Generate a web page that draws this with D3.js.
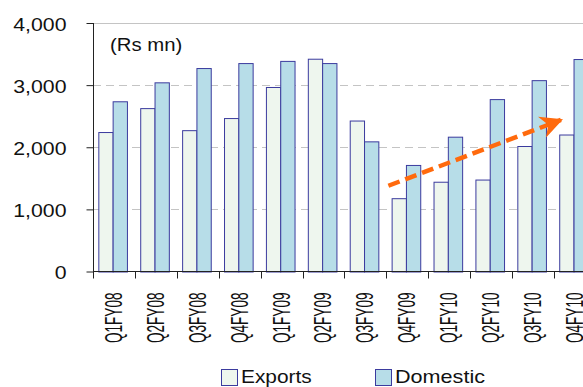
<!DOCTYPE html>
<html>
<head>
<meta charset="utf-8">
<script src="https://cdn.jsdelivr.net/npm/d3@7"></script>
<style>
  html, body { margin: 0; padding: 0; background: #fff; }
  svg { display: block; }
  text { font-family: "Liberation Sans", Arial, sans-serif; fill: #111; }
</style>
</head>
<body>
<svg id="chart" width="583" height="387"></svg>
<script>
// Quarterly sales split, Rs mn
const quarters = ["Q1FY08", "Q2FY08", "Q3FY08", "Q4FY08", "Q1FY09", "Q2FY09",
                  "Q3FY09", "Q4FY09", "Q1FY10", "Q2FY10", "Q3FY10", "Q4FY10"];
const seriesNames = ["Exports", "Domestic"];
const exportsValues  = [2245, 2630, 2275, 2470, 2970, 3425, 2430, 1180, 1445, 1480, 2020, 2205];
const domesticValues = [2740, 3045, 3275, 3355, 3390, 3355, 2095, 1715, 2170, 2775, 3080, 3420];
const yTicks = [0, 1000, 2000, 3000, 4000];
const unitLabel = "(Rs mn)";
// Trend arrow: [quarter, offset within quarter band, value]
const trendArrow = [["Q4FY09", 0.05, 1380], ["Q4FY10", 0.31, 2475]];

const colors = { Exports: "#EEF6EE", Domestic: "#B7DDE8" };
const barStroke = "#3B3B9E";

const svg = d3.select("#chart");
const plotLeft = 93, plotTop = 23, plotBottom = 271.5;
const bandStep = 41.9;

const x = d3.scaleBand().domain(quarters).range([plotLeft, plotLeft + bandStep * quarters.length]).padding(0);
const bw = x.bandwidth();
const xs = d3.scaleBand().domain(seriesNames).range([bw * 0.127, bw * 0.81]).padding(0);
const y = d3.scaleLinear().domain([0, 4000]).range([plotBottom, plotTop]);

// Gridlines
svg.append("g").selectAll("line").data(yTicks.filter(d => d > 0)).join("line")
  .attr("x1", plotLeft).attr("x2", 583)
  .attr("y1", d => Math.round(y(d)) + 0.5).attr("y2", d => Math.round(y(d)) + 0.5)
  .attr("stroke", "#C4C4C4").attr("stroke-width", 1)
  .attr("stroke-dasharray", d => d === 4000 ? null : "8,5");

// Bars
const rows = quarters.map((q, i) => ({ q, Exports: exportsValues[i], Domestic: domesticValues[i] }));
const groups = svg.append("g").selectAll("g").data(rows).join("g")
  .attr("transform", d => `translate(${x(d.q)},0)`);
groups.selectAll("rect").data(d => seriesNames.map(s => ({ s, v: d[s] }))).join("rect")
  .attr("x", d => xs(d.s) + 0.5)
  .attr("y", d => y(d.v) + 0.5)
  .attr("width", xs.bandwidth())
  .attr("height", d => plotBottom - y(d.v))
  .attr("fill", d => colors[d.s])
  .attr("stroke", barStroke)
  .attr("stroke-width", 1);

// Y axis
const yAxis = svg.append("g").attr("transform", `translate(${plotLeft + 0.5},0)`)
  .call(d3.axisLeft(y).tickValues(yTicks).tickSize(7).tickFormat(d3.format(",")));
yAxis.select(".domain").attr("stroke", "#222").attr("d", `M0,${plotTop}V${plotBottom}`);
yAxis.selectAll(".tick line").attr("stroke", "#222");
yAxis.selectAll(".tick text")
  .attr("x", null).attr("dy", null)
  .attr("font-size", 19)
  .attr("text-anchor", "end")
  .attr("transform", "translate(-27,7) scale(1.12,1)")
  .attr("fill", "#111");

// X axis
const xAxis = svg.append("g").attr("transform", `translate(0,${plotBottom})`);
xAxis.append("line").attr("x1", plotLeft).attr("x2", 583).attr("y1", 0).attr("y2", 0)
  .attr("stroke", "#222");
xAxis.selectAll("line.tk").data(quarters).join("line").attr("class", "tk")
  .attr("x1", d => Math.round(x(d)) + 0.5).attr("x2", d => Math.round(x(d)) + 0.5)
  .attr("y1", 0).attr("y2", 7).attr("stroke", "#222");
xAxis.selectAll("text").data(quarters).join("text")
  .attr("transform", d => `translate(${x(d) + bw / 2 + 8},21) rotate(-90) scale(0.59,1)`)
  .attr("text-anchor", "end")
  .attr("font-size", 23)
  .text(d => d);

// Unit label
svg.append("text").attr("transform", "translate(110,51) scale(1.13,1)")
  .attr("font-size", 18).text(unitLabel);

// Trend arrow
const defs = svg.append("defs");
defs.append("marker").attr("id", "head").attr("viewBox", "0 0 10 10")
  .attr("refX", 9).attr("refY", 5).attr("markerWidth", 5).attr("markerHeight", 5)
  .attr("markerUnits", "strokeWidth").attr("orient", "auto")
  .append("path").attr("d", "M0,0 L10,5 L0,10 L3,5 Z").attr("fill", "#FF6A0D");
const ax = d => x(d[0]) + d[1] * bw;
svg.append("line")
  .attr("x1", ax(trendArrow[0])).attr("y1", y(trendArrow[0][2]))
  .attr("x2", ax(trendArrow[1]) - 6).attr("y2", y(trendArrow[1][2]) + 2.2)
  .attr("stroke", "#FF6A0D").attr("stroke-width", 4.5)
  .attr("stroke-dasharray", "12,6")
  .attr("marker-end", "url(#head)");

// Legend
const legend = svg.append("g");
const legendPos = [221, 375];
seriesNames.forEach((s, i) => {
  const g = legend.append("g").attr("transform", `translate(${legendPos[i]},369)`);
  g.append("rect").attr("x", 0.5).attr("y", 0.5).attr("width", 16).attr("height", 16)
    .attr("fill", colors[s]).attr("stroke", barStroke).attr("stroke-width", 1);
  g.append("text").attr("transform", `translate(20,14) scale(${i === 0 ? 1.16 : 1.2},1)`)
    .attr("font-size", 18).text(s);
});
</script>
</body>
</html>
